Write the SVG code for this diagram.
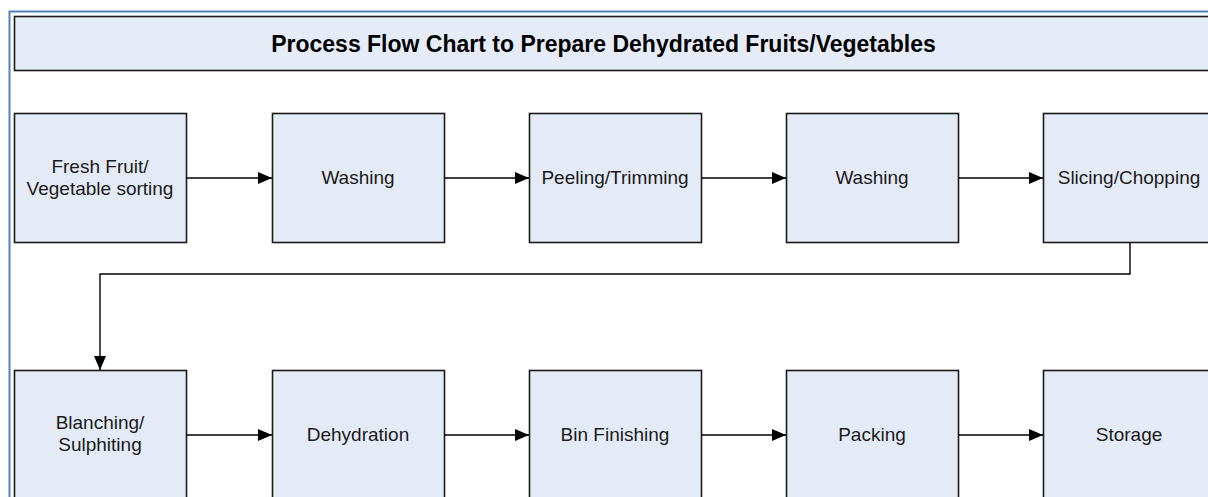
<svg xmlns="http://www.w3.org/2000/svg" width="1208" height="497" viewBox="0 0 1208 497">
<defs>
<marker id="ah" viewBox="0 0 14 12" refX="14" refY="6" markerWidth="14" markerHeight="12" markerUnits="userSpaceOnUse" orient="auto">
<path d="M0,0 L14,6 L0,12 Z" fill="#000"/>
</marker>
<style>
.box{fill:#E5EBF6;stroke:#1a1a1a;stroke-width:1.6}
.lbl{font-family:"Liberation Sans",Arial,sans-serif;font-size:19px;fill:#1a1a1a;text-anchor:middle}
.title{font-family:"Liberation Sans",Arial,sans-serif;font-size:23px;font-weight:bold;fill:#000;text-anchor:middle}
.con{fill:none;stroke:#000;stroke-width:1.4}
</style>
</defs>
<rect width="1208" height="497" fill="#fff"/>
<rect x="9.5" y="11.5" width="1210" height="500" fill="none" stroke="#4F81BD" stroke-width="2"/>
<g id="title">
<rect x="14.5" y="16.5" width="1210" height="54" fill="#E6ECF7" stroke="#1a1a1a" stroke-width="1.6"/>
<text class="title" x="603.5" y="51.5">Process Flow Chart to Prepare Dehydrated Fruits/Vegetables</text>
</g>
<g id="n1"><rect class="box" x="14.5" y="113.5" width="172" height="129"/><text class="lbl" x="100" y="172.5">Fresh Fruit/</text><text class="lbl" x="100" y="194.5">Vegetable sorting</text></g>
<g id="n2"><rect class="box" x="272.5" y="113.5" width="172" height="129"/><text class="lbl" x="358" y="184">Washing</text></g>
<g id="n3"><rect class="box" x="529.5" y="113.5" width="172" height="129"/><text class="lbl" x="615" y="184">Peeling/Trimming</text></g>
<g id="n4"><rect class="box" x="786.5" y="113.5" width="172" height="129"/><text class="lbl" x="872" y="184">Washing</text></g>
<g id="n5"><rect class="box" x="1043.5" y="113.5" width="172" height="129"/><text class="lbl" x="1129" y="184">Slicing/Chopping</text></g>
<g id="n6"><rect class="box" x="14.5" y="370.5" width="172" height="140"/><text class="lbl" x="100" y="428.5">Blanching/</text><text class="lbl" x="100" y="450.5">Sulphiting</text></g>
<g id="n7"><rect class="box" x="272.5" y="370.5" width="172" height="140"/><text class="lbl" x="358" y="441">Dehydration</text></g>
<g id="n8"><rect class="box" x="529.5" y="370.5" width="172" height="140"/><text class="lbl" x="615" y="441">Bin Finishing</text></g>
<g id="n9"><rect class="box" x="786.5" y="370.5" width="172" height="140"/><text class="lbl" x="872" y="441">Packing</text></g>
<g id="n10"><rect class="box" x="1043.5" y="370.5" width="172" height="140"/><text class="lbl" x="1129" y="441">Storage</text></g>
<g id="connectors">
<path class="con" d="M186.5,178 H272" marker-end="url(#ah)"/>
<path class="con" d="M444.5,178 H529" marker-end="url(#ah)"/>
<path class="con" d="M701.5,178 H786" marker-end="url(#ah)"/>
<path class="con" d="M958.5,178 H1043" marker-end="url(#ah)"/>
<path class="con" d="M1130,242.5 V274 H100 V370" marker-end="url(#ah)"/>
<path class="con" d="M186.5,435 H272" marker-end="url(#ah)"/>
<path class="con" d="M444.5,435 H529" marker-end="url(#ah)"/>
<path class="con" d="M701.5,435 H786" marker-end="url(#ah)"/>
<path class="con" d="M958.5,435 H1043" marker-end="url(#ah)"/>
</g>
</svg>
